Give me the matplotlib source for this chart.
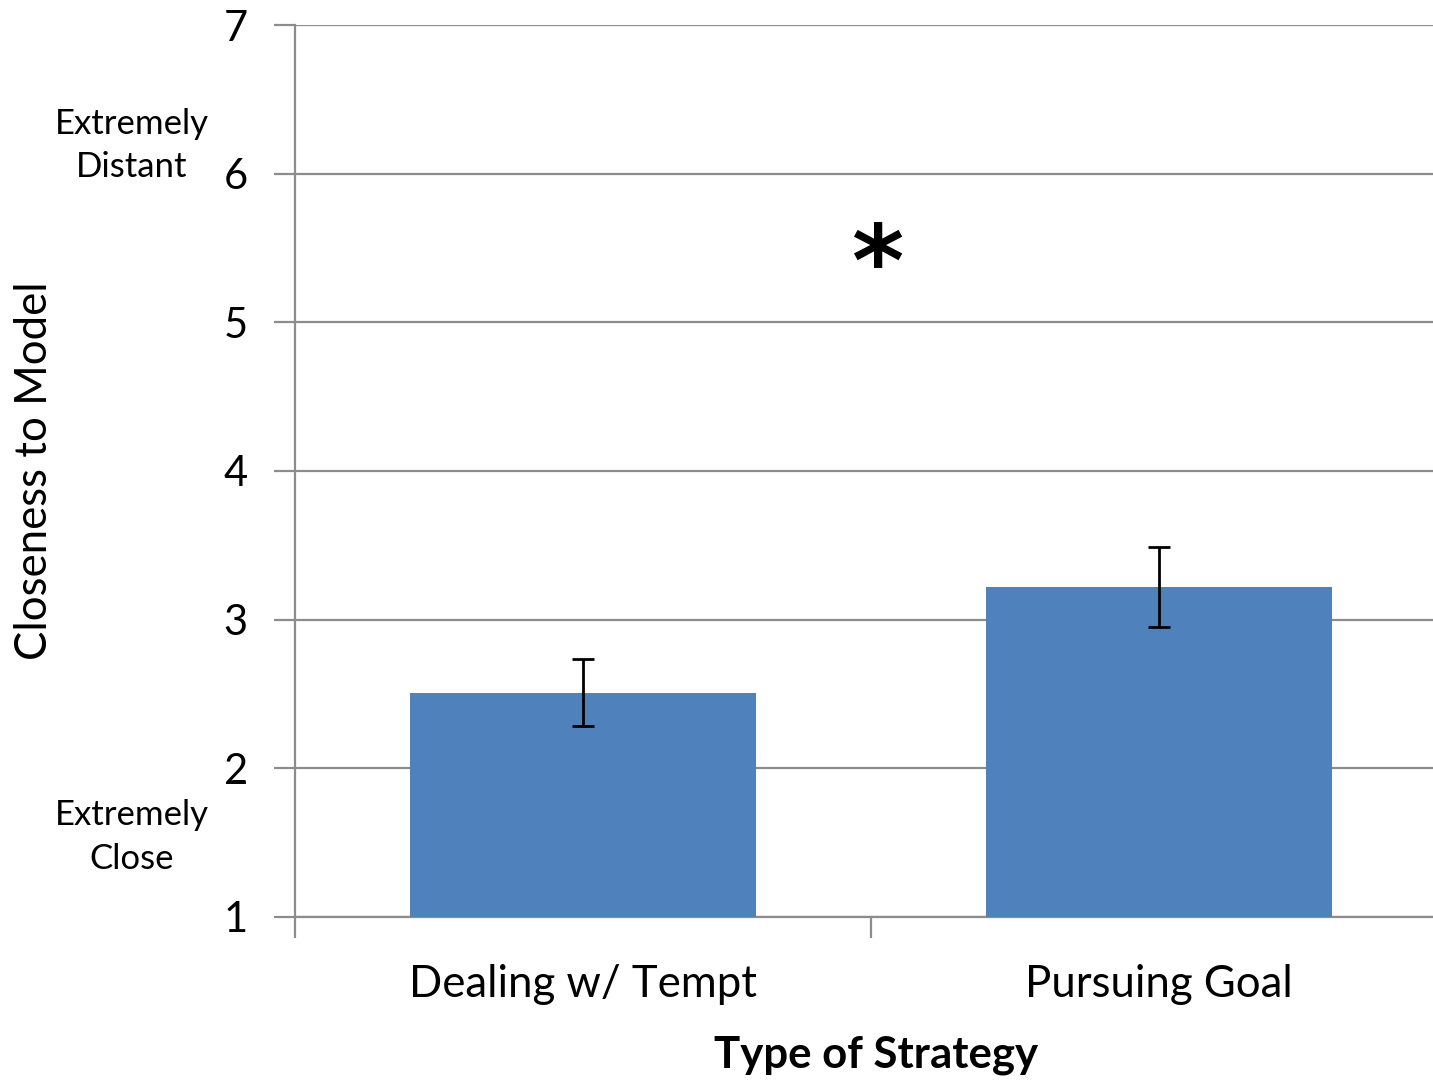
import matplotlib
matplotlib.use("Agg")
import matplotlib.pyplot as plt
import matplotlib.transforms as mtransforms

categories = ["Dealing w/ Tempt", "Pursuing Goal"]
means = [2.51, 3.22]
errors = [0.225, 0.27]
yticks = [1, 2, 3, 4, 5, 6, 7]

plt.rcParams['font.family'] = ['Lato', 'DejaVu Sans']

fig = plt.figure(figsize=(14.33, 10.8), dpi=100)
ax = fig.add_axes([295/1433, 1-917/1080, 1-295/1433, (917-25)/1080])

x = list(range(len(categories)))
ax.bar(x, [m - 1 for m in means], bottom=1, width=0.6, color="#4F81BD", zorder=3)
ax.errorbar(x, means, yerr=errors, fmt="none", ecolor="black", elinewidth=2,
            capsize=8, capthick=2, zorder=4)

ax.set_yticks(yticks)
ax.set_yticklabels([str(v) for v in yticks], fontsize=30)
ax.yaxis.grid(True, color="#8c8c8c", linewidth=1.6, zorder=0)
ax.set_axisbelow(True)

ax.set_xticks([-0.5, 0.5, 1.5])
ax.set_xticklabels([])
ax.set_xticks(x, minor=True)
ax.set_xticklabels(categories, minor=True, fontsize=31.5)
ax.tick_params(axis="x", which="minor", length=0, pad=34)
ax.tick_params(axis="x", which="major", length=15, width=1.6, color="#8c8c8c", direction="out")
ax.tick_params(axis="y", length=15, width=1.6, color="#8c8c8c", direction="out", pad=19)

ax.set_ylim(1, 7)
ax.set_xlim(-0.5, 1.5 - 14/576)

for s in ["top", "right"]:
    ax.spines[s].set_visible(False)
for s in ["left", "bottom"]:
    ax.spines[s].set_color("#8c8c8c")
    ax.spines[s].set_linewidth(1.6)

ax.set_ylabel("Closeness to Model", fontsize=31.5)
ax.yaxis.set_label_coords((35 - 295) / 1138, 0.5)
ax.set_xlabel("Type of Strategy", fontsize=31.5, fontweight="bold")
ax.xaxis.set_label_coords((876 - 295) / 1138, (917 - 1055) / 892)
ax.xaxis.label.set_va("center")
ax.yaxis.label.set_va("center")

trans = mtransforms.blended_transform_factory(fig.transFigure, ax.transData)
ax.text(132/1433, 6.19, "Extremely\nDistant", transform=trans, ha="center", va="center",
        fontsize=25, linespacing=1.45)
ax.text(132/1433, 1.54, "Extremely\nClose", transform=trans, ha="center", va="center",
        fontsize=25, linespacing=1.45)

ax.text(0.51, 5.36, "*", ha="center", va="center", fontsize=72, fontweight="bold",
        family="DejaVu Sans")

fig.savefig("out.png", dpi=100)
